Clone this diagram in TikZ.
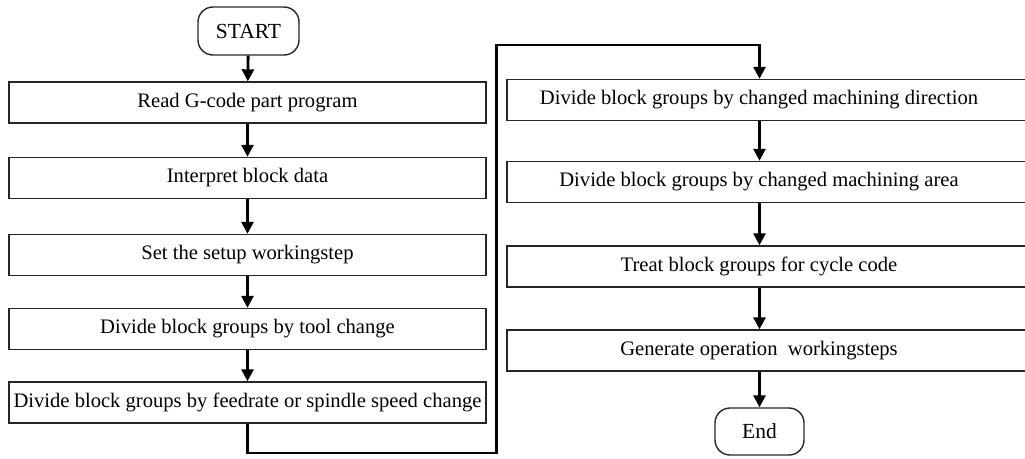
\documentclass[tikz,border=0pt]{standalone}
\usepackage{fontspec}
\setmainfont{Liberation Serif}
\usetikzlibrary{arrows.meta}

\tikzset{
	stepbox/.style={draw=black!85, line width=1.4pt, minimum height=41pt, inner sep=0pt, font=\fontsize{20.6}{24}\selectfont},
	leftbox/.style={stepbox, minimum width=477pt},
	rightbox/.style={stepbox, minimum width=540pt, execute at end node={\hspace*{36pt}}},
	terminal/.style={draw=black!85, line width=1.4pt, rounded corners=15pt, inner sep=0pt, font=\fontsize{21.5}{24}\selectfont},
	flow/.style={line width=2.8pt, -{Triangle[length=12pt,width=12pt]}}
}

\begin{document}
\begin{tikzpicture}[x=1pt,y=-1pt]
	\useasboundingbox (0,0) rectangle (1025,458);
	
	% left column
	\node[terminal, minimum width=101pt, minimum height=48pt] (start) at (248.5,31) {START};
	\node[leftbox] (read) at (247.5,102.5) {Read G-code part program};
	\node[leftbox] (interp) at (247.5,178) {Interpret block data};
	\node[leftbox] (setup) at (247.5,255) {Set the setup workingstep};
	\node[leftbox] (tool) at (247.5,329) {Divide block groups by tool change};
	\node[leftbox] (feed) at (247.5,402.5) {Divide block groups by feedrate or spindle speed change};
	
	% right column
	\coordinate (rc) at (759.5,0);
	\node[rightbox] (dir) at (777,100) {Divide block groups by changed machining direction};
	\node[rightbox] (area) at (777,182) {Divide block groups by changed machining area};
	\node[rightbox] (cycle) at (777,266.5) {Treat block groups for cycle code};
	\node[rightbox] (gen) at (777,350.5) {Generate operation~ workingsteps};
	\node[terminal, minimum width=89pt, minimum height=47pt] (end) at (759.5,431.5) {End};
	
	\coordinate (lowturn) at (496.5,453);
	\coordinate (highturn) at (496.5,45);
	
	\draw[flow] (start) -- (read);
	\draw[flow] (read) -- (interp);
	\draw[flow] (interp) -- (setup);
	\draw[flow] (setup) -- (tool);
	\draw[flow] (tool) -- (feed);
	\draw[flow] (feed.south) |- (lowturn) -- (highturn) -| (dir.north -| rc);
	\draw[flow] (dir.south -| rc) -- (area.north -| rc);
	\draw[flow] (area.south -| rc) -- (cycle.north -| rc);
	\draw[flow] (cycle.south -| rc) -- (gen.north -| rc);
	\draw[flow] (gen.south -| rc) -- (end);
	
\end{tikzpicture}
\end{document}
